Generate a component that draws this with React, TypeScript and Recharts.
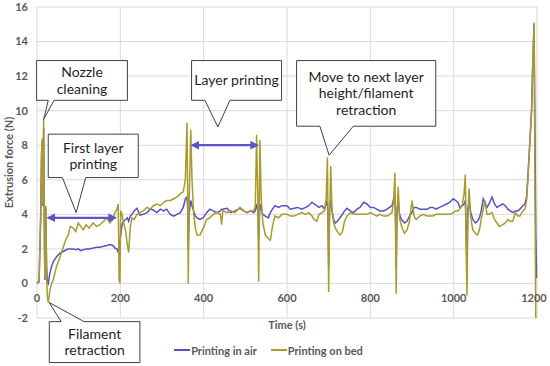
import {
    LineChart, Line, XAxis, YAxis, CartesianGrid, Legend, ReferenceArea, ReferenceLine,
} from 'recharts';

// time stamps (s) shared by both series
const timeSec = [
    0, 5, 9, 11, 13, 14, 16, 18, 19, 21, 23, 25, 27, 31, 35, 40, 47, 55, 63, 70, 75, 80, 87, 93, 99,
    105, 111, 118, 125, 135, 143, 151, 160, 168, 175, 182, 187, 192, 195, 197, 199, 201, 204, 208, 213,
    217, 220, 224, 228, 233, 240, 247, 255, 264, 272, 279, 288, 296, 304, 311, 320, 328, 336, 344, 351,
    356, 360, 362, 363, 365, 369, 372, 376, 380, 384, 391, 399, 407, 415, 423, 432, 440, 443, 446, 456,
    465, 475, 487, 496, 504, 512, 520, 524, 527, 530, 532, 535, 538, 542, 548, 555, 560, 565, 571, 580,
    588, 600, 608, 617, 626, 635, 645, 652, 660, 665, 671, 677, 684, 690, 694, 697, 699, 700, 702, 705,
    708, 712, 716, 721, 727, 733, 738, 744, 752, 760, 768, 775, 784, 792, 800, 808, 815, 823, 832, 840,
    846, 852, 856, 859, 861, 862, 864, 867, 870, 875, 882, 888, 894, 900, 905, 910, 919, 928, 936, 944,
    950, 958, 966, 975, 983, 991, 999, 1005, 1010, 1015, 1021, 1025, 1028, 1030, 1032, 1034, 1037, 1041,
    1046, 1052, 1057, 1062, 1066, 1071, 1075, 1080, 1085, 1092, 1098, 1104, 1110, 1118, 1124, 1130, 1136,
    1142, 1148, 1154, 1159, 1166, 1171, 1175, 1178, 1182, 1187, 1190, 1193, 1195, 1197, 1199,
];

const inAir = [
    0.0, 0.1, 4.0, 7.5, 8.3, 4.5, 9.0, 2.0, 0.2, 4.4, 1.0, 0.1, 0.0, 0.6, 1.0, 1.3, 1.55, 1.75, 1.85, 1.95, 2.0, 2.0, 2.0, 1.95, 2.0,
    1.9, 1.95, 2.0, 2.0, 2.05, 2.1, 2.1, 2.15, 2.2, 2.25, 2.2, 2.05, 2.0, 1.8, 1.7, 2.5, 2.8, 3.4, 3.6, 3.7,
    3.8, 3.6, 3.9, 4.0, 4.2, 4.35, 3.95, 4.0, 4.1, 4.3, 4.25, 4.1, 4.3, 4.2, 4.3, 4.0, 3.9, 4.0, 4.1, 4.4,
    4.9, 5.0, 4.2, 2.0, 4.0, 4.8, 4.5, 4.2, 3.9, 3.8, 3.7, 3.8, 4.1, 4.3, 4.2, 4.1, 4.2, 4.3, 4.3, 4.35,
    4.1, 4.2, 4.35, 4.2, 4.1, 4.2, 4.1, 4.2, 4.5, 4.3, 2.5, 4.6, 4.3, 4.0, 3.9, 3.8, 4.1, 4.3, 4.5, 4.4,
    4.5, 4.5, 4.3, 4.35, 4.4, 4.3, 4.4, 4.5, 4.7, 4.6, 4.5, 4.4, 4.5, 4.3, 4.6, 4.8, 3.0, 1.0, 4.2, 4.8,
    4.2, 3.7, 3.5, 3.6, 3.8, 4.0, 4.2, 4.35, 4.2, 4.1, 4.3, 4.4, 4.7, 4.6, 4.4, 4.4, 4.3, 4.2, 4.2, 4.3,
    4.4, 4.5, 4.9, 5.2, 3.0, 1.0, 4.3, 4.8, 4.0, 3.7, 3.5, 3.6, 3.9, 4.1, 4.4, 4.4, 4.3, 4.3, 4.3, 4.4,
    4.4, 4.3, 4.4, 4.5, 4.6, 4.7, 4.9, 4.8, 4.7, 4.4, 4.5, 4.6, 4.8, 3.0, 1.0, 4.3, 4.7, 4.1,
    3.7, 3.5, 3.6, 3.8, 4.2, 4.9, 4.7, 4.4, 4.6, 5.0, 4.6, 4.4, 4.5, 4.6, 4.5, 4.3, 4.2,
    4.1, 4.2, 4.2, 4.3, 4.5, 4.6, 5.0, 6.1, 7.8, 10.0, 12.9, 15.0, 9.0, 3.0, 0.3,
];

const onBed = [
    0.0, 0.2, 4.0, 7.6, 8.4, 4.6, 9.5, 2.0, 0.3, 4.5, 0.5, -0.8, -1.1, -0.4, 0.0, 0.3, 1.0, 1.5, 2.1, 2.6, 2.8, 3.3, 3.2, 3.0, 3.5,
    3.3, 3.1, 3.4, 3.2, 3.5, 3.3, 3.4, 3.6, 3.8, 3.5, 3.7, 4.1, 4.3, 4.6, 0.2, 0.0, 4.2, 4.0, 3.5, 3.0,
    2.2, 1.8, 3.3, 3.8, 3.7, 4.0, 4.1, 4.2, 4.4, 4.3, 4.5, 4.6, 4.5, 4.7, 4.8, 4.8, 4.9, 5.0, 5.2, 5.3,
    6.0, 9.3, 4.0, 0.0, 4.5, 8.9, 6.0, 4.0, 3.2, 2.8, 2.8, 3.2, 3.7, 3.8, 4.0, 4.1, 4.0, 3.4, 4.2, 4.1,
    4.2, 4.1, 4.4, 4.2, 4.1, 4.2, 4.2, 4.5, 8.6, 5.0, 0.1, 8.3, 5.0, 3.5, 2.8, 2.6, 2.5, 3.3, 3.9, 3.8,
    4.0, 4.0, 3.9, 3.9, 4.0, 4.1, 4.0, 4.1, 3.9, 3.7, 3.6, 4.0, 4.1, 4.2, 5.0, 7.3, 2.0, -0.5, 3.5, 6.8,
    4.2, 3.5, 3.2, 3.0, 2.8, 3.0, 3.6, 3.9, 4.1, 4.0, 4.0, 4.0, 4.0, 4.0, 4.1, 4.0, 3.9, 4.0, 3.9, 3.9,
    4.0, 4.1, 4.8, 6.4, 2.0, -0.6, 4.0, 5.6, 3.8, 3.3, 2.9, 3.1, 3.6, 4.8, 3.9, 3.7, 3.9, 4.0, 3.9, 3.9,
    3.9, 4.0, 4.0, 4.0, 4.0, 4.0, 4.1, 4.2, 4.2, 4.3, 4.6, 5.2, 6.3, 2.0, -0.7, 3.8, 5.5, 3.8,
    3.1, 2.9, 2.8, 3.1, 3.7, 4.3, 4.8, 4.0, 4.0, 4.1, 3.7, 3.5, 3.3, 3.4, 3.5, 3.7, 3.6,
    3.6, 4.1, 3.9, 3.9, 4.2, 4.3, 4.8, 6.0, 7.8, 10.0, 12.9, 15.1, 6.0, -2.0, -2.0,
];

const xTicks = [0, 200, 400, 600, 800, 1000, 1200];
const yTicks = [-2, 0, 2, 4, 6, 8, 10, 12, 14, 16];

// callout boxes in data units: box, pointer base (on box edge) and tip
const callouts = [
    { lines: ['Nozzle', 'cleaning'], x1: -1, x2: 217, y1: 10.6, y2: 12.9, edge: 10.6, base: [27, 41], tip: [16, 9.5] },
    { lines: ['First layer', 'printing'], x1: 27, x2: 243, y1: 6.13, y2: 8.64, edge: 6.13, base: [61, 117], tip: [94, 4.1] },
    { lines: ['Layer printing'], x1: 371, x2: 587, y1: 10.6, y2: 12.9, edge: 10.6, base: [403, 463], tip: [434, 9.06] },
    { lines: ['Move to next layer', 'height/filament', 'retraction'], x1: 623, x2: 957, y1: 9.1, y2: 12.9, edge: 9.1, base: [679, 759], tip: [701, 7.42] },
    { lines: ['Filament', 'retraction'], x1: 29.5, x2: 247, y1: -4.58, y2: -2.21, edge: -2.21, base: [58, 113], tip: [29, -1.1] },
];

// double arrows: [from, to, level]
const arrows = [
    [27, 188, 3.8],
    [373, 529, 8.0],
];

const AIR = '#5a4fc6';
const BED = '#a89b2c';
const ARROW = '#5a55c8';
const FONT = 'Lato, "Open Sans", sans-serif';
const AXIS_TEXT = '#595959';

const data = timeSec.map((t, i) => ({ t, air: inAir[i], bed: onBed[i] }));

const calloutLabel = (lines: string[]) => (props: any) => {
    const { x, y, width, height } = props.viewBox;
    const cx = x + width / 2;
    const lh = 16.3;
    const start = y + height / 2 - ((lines.length - 1) * lh) / 2;
    return (
        <text textAnchor="middle" fontFamily={FONT} fontSize={14} fill="#1f1f1f">
            {lines.map((l, i) => (
                <tspan key={i} x={cx} y={start + i * lh} dy="0.36em">{l}</tspan>
            ))}
        </text>
    );
};

const XTick = ({ x, y, payload }: any) => (
    <text x={x} y={y - 16} textAnchor="middle" fontFamily={FONT} fontSize={11} fontWeight="bold" fill={AXIS_TEXT}>
        {payload.value}
    </text>
);

const YLabel = (props: any) => {
    const { viewBox } = props;
    const cy = 162.5;
    const cx = viewBox.x + 8;
    return (
        <text x={cx} y={cy} transform={`rotate(-90 ${cx} ${cy})`} textAnchor="middle" dominantBaseline="central"
            fontFamily={FONT} fontSize={11} fontWeight="bold" fill={AXIS_TEXT}>
            Extrusion force (N)
        </text>
    );
};

const LegendContent = (props: any) => (
    <div style={{ height: 28, display: 'flex', justifyContent: 'center', paddingTop: 5, boxSizing: 'border-box' }}>
        {props.payload.map((p: any) => (
            <div key={p.value} style={{ display: 'flex', alignItems: 'center', margin: '0 7px', height: 14 }}>
                <span style={{ display: 'inline-block', width: 16, height: 2, background: p.color, marginRight: 1 }} />
                <span style={{ fontFamily: FONT, fontSize: 11, fontWeight: 'bold', color: AXIS_TEXT }}>{p.value}</span>
            </div>
        ))}
    </div>
);

export default function App() {
    return (
        <div style={{ position: 'absolute', left: 0, top: 0, width: 550, height: 366, background: '#fff' }}>
            <svg width={0} height={0} style={{ position: 'absolute' }}>
                <defs>
                    <marker id="arrowHead" viewBox="0 0 10 10" refX="8" refY="5" markerWidth="4" markerHeight="4"
                        orient="auto-start-reverse">
                        <path d="M0,0 L10,5 L0,10 z" fill={ARROW} />
                    </marker>
                </defs>
            </svg>
            <LineChart width={550} height={366} data={data} margin={{ top: 7, right: 13, left: 0, bottom: 0 }}>
                <CartesianGrid stroke="#d9d9d9" strokeWidth={1} />
                <XAxis
                    dataKey="t"
                    type="number"
                    domain={[0, 1200]}
                    ticks={xTicks}
                    axisLine={false}
                    tickLine={false}
                    tickSize={0}
                    tickMargin={0}
                    height={20}
                    tick={<XTick />}
                    label={{ value: 'Time (s)', position: 'insideTop', offset: 3, fontFamily: FONT, fontSize: 11, fontWeight: 'bold', fill: AXIS_TEXT }}
                />
                <YAxis
                    type="number"
                    domain={[-2, 16]}
                    ticks={yTicks}
                    allowDataOverflow
                    width={37}
                    axisLine={false}
                    tickLine={false}
                    tickSize={0}
                    tickMargin={9}
                    tick={{ fontFamily: FONT, fontSize: 11, fontWeight: 'bold', fill: AXIS_TEXT }}
                    label={{ content: YLabel }}
                />
                <Legend verticalAlign="bottom" content={LegendContent} />
                <Line name="Printing in air" dataKey="air" stroke={AIR} strokeWidth={1.5} dot={false}
                    type="linear" isAnimationActive={false} legendType="plainline" />
                <Line name="Printing on bed" dataKey="bed" stroke={BED} strokeWidth={1.5} dot={false}
                    type="linear" isAnimationActive={false} legendType="plainline" />
                {arrows.map(([a, b, lvl], i) => (
                    <ReferenceLine key={`ar${i}`} segment={[{ x: a, y: lvl }, { x: b, y: lvl }]} stroke={ARROW}
                        strokeWidth={2.2} markerStart="url(#arrowHead)" markerEnd="url(#arrowHead)" ifOverflow="visible" />
                ))}
                {callouts.map((c, i) => (
                    <ReferenceArea key={`box${i}`} x1={c.x1} x2={c.x2} y1={c.y1} y2={c.y2} fill="#fff" fillOpacity={1}
                        stroke="#404040" strokeWidth={1} ifOverflow="visible" label={{ content: calloutLabel(c.lines) }} />
                ))}
                {callouts.map((c, i) => (
                    <ReferenceLine key={`gap${i}`} segment={[{ x: c.base[0], y: c.edge }, { x: c.base[1], y: c.edge }]}
                        stroke="#fff" strokeWidth={2.5} ifOverflow="visible" />
                ))}
                {callouts.map((c, i) => (
                    <ReferenceLine key={`pa${i}`} segment={[{ x: c.base[0], y: c.edge }, { x: c.tip[0], y: c.tip[1] }]}
                        stroke="#404040" strokeWidth={1} ifOverflow="visible" />
                ))}
                {callouts.map((c, i) => (
                    <ReferenceLine key={`pb${i}`} segment={[{ x: c.base[1], y: c.edge }, { x: c.tip[0], y: c.tip[1] }]}
                        stroke="#404040" strokeWidth={1} ifOverflow="visible" />
                ))}
            </LineChart>
        </div>
    );
}
